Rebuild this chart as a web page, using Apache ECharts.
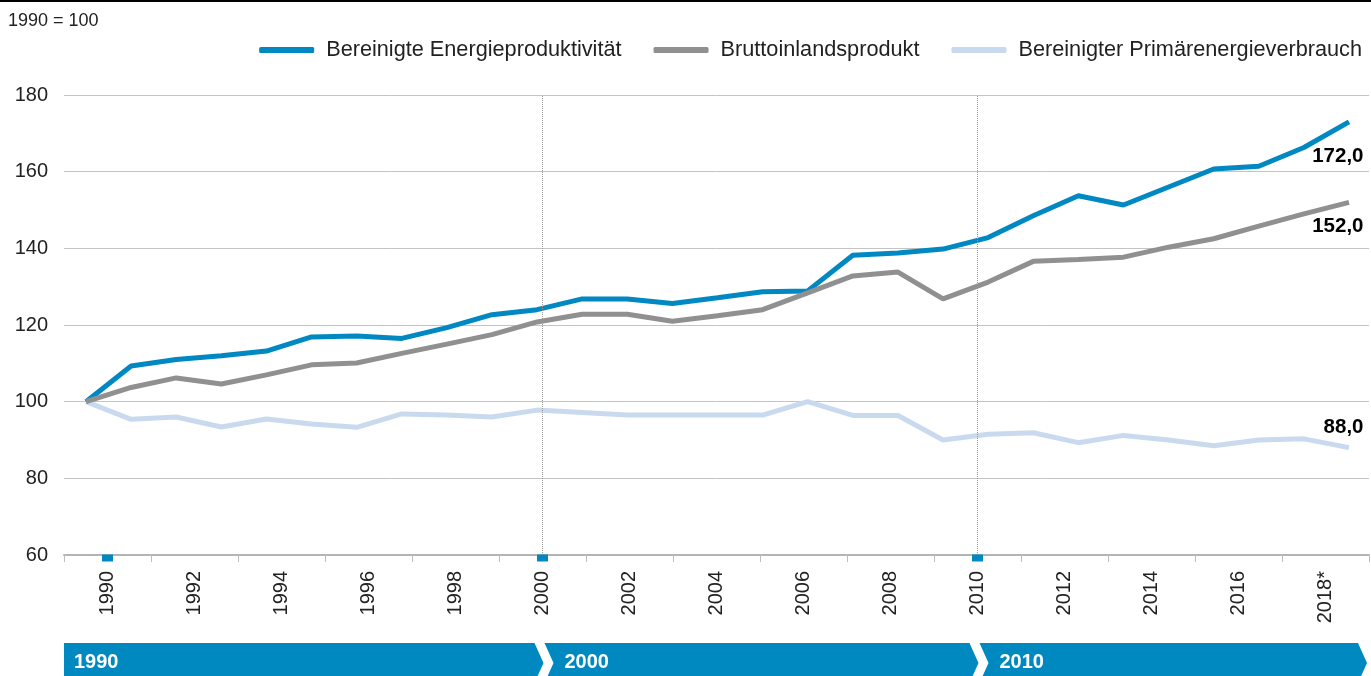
<!DOCTYPE html>
<html>
<head>
<meta charset="utf-8">
<style>
  html, body { margin: 0; padding: 0; background: #fff; }
  #chart { width: 1371px; height: 676px; }
</style>
<script src="https://cdn.jsdelivr.net/npm/echarts@6/dist/echarts.min.js"></script>
</head>
<body>
<div id="chart"></div>
<script>
// ---- Data ----
const years = ['1990','1991','1992','1993','1994','1995','1996','1997','1998','1999',
               '2000','2001','2002','2003','2004','2005','2006','2007','2008','2009',
               '2010','2011','2012','2013','2014','2015','2016','2017','2018'];
const tickLabels = ['1990','1992','1994','1996','1998','2000','2002','2004','2006','2008',
                    '2010','2012','2014','2016','2018*'];
const decadeMarks = ['1990','2000','2010'];
const seriesNames = ['Bereinigte Energieproduktivität','Bruttoinlandsprodukt','Bereinigter Primärenergieverbrauch'];
const energyProductivity = [100,109.3,111.0,112.0,113.2,116.9,117.1,116.5,119.3,122.7,
                            124.0,126.8,126.8,125.6,127.1,128.7,128.9,138.2,138.8,139.8,
                            142.8,148.5,153.7,151.3,156.0,160.7,161.4,166.3,173.0];
const gdp = [100,103.7,106.2,104.6,107.0,109.6,110.1,112.6,115.0,117.5,
             120.8,122.8,122.8,121.0,122.4,124.0,128.4,132.8,133.8,126.8,
             131.2,136.6,137.1,137.7,140.3,142.5,145.8,149.0,152.0];
const primaryEnergy = [100,95.4,96.0,93.4,95.5,94.2,93.3,96.8,96.5,96.0,
                       97.8,97.2,96.5,96.5,96.5,96.5,100.0,96.4,96.4,90.0,
                       91.5,91.9,89.3,91.2,90.0,88.5,90.0,90.3,88.0];
const endLabels = ['172,0','152,0','88,0'];
const baseLabel = '1990 = 100';

// ---- Styles ----
const FONT = "'Liberation Sans', Arial, sans-serif";
const colors = ['#0088c2', '#909090', '#c9daef'];
const bandColor = '#0089c0';

const chart = echarts.init(document.getElementById('chart'), null, {renderer: 'canvas'});

const GRID = {top: 95, bottom: 121};
const lineData = [energyProductivity, gdp, primaryEnergy];
const last = years.length - 1;
const endLabelPos = [[15, 35], [15, 25], [15, -20]];

const option = {
  animation: false,
  textStyle: {fontFamily: FONT},
  title: {
    text: baseLabel, left: 3, top: 7,
    textStyle: {fontFamily: FONT, fontSize: 18, fontWeight: 'normal', color: '#222'}
  },
  legend: {
    data: seriesNames,
    right: 4, top: 34,
    icon: 'roundRect',
    itemWidth: 55, itemHeight: 6, itemGap: 32,
    textStyle: {fontFamily: FONT, fontSize: 21.7, color: '#222', padding: [0, 0, 0, 7]}
  },
  grid: [
    {left: 64, right: 2, top: GRID.top, bottom: GRID.bottom, containLabel: false},
    {left: 86, right: 22, top: GRID.top, bottom: GRID.bottom, containLabel: false}
  ],
  xAxis: [
    {
      type: 'category', gridIndex: 0, data: tickLabels, boundaryGap: true,
      axisLine: {show: true, lineStyle: {color: '#b4b4b4', width: 2}},
      axisTick: {show: true, length: 7, lineStyle: {color: '#bbbbbb', width: 1}},
      axisLabel: {interval: 0, rotate: 90, margin: 16, fontFamily: FONT, fontSize: 20, color: '#222'},
      splitLine: {show: false}
    },
    {
      type: 'category', gridIndex: 1, data: years, boundaryGap: false, show: false
    }
  ],
  yAxis: [
    {
      type: 'value', gridIndex: 0, min: 60, max: 180, interval: 20,
      axisLine: {show: false}, axisTick: {show: false},
      axisLabel: {margin: 16, fontFamily: FONT, fontSize: 20, color: '#222'},
      splitLine: {show: true, lineStyle: {color: '#c4c4c4', width: 1}}
    },
    {
      type: 'value', gridIndex: 1, min: 60, max: 180, interval: 20, show: false,
      splitLine: {show: false}
    }
  ],
  series: [
    {
      name: 'decadeMarkers', type: 'scatter', xAxisIndex: 0, yAxisIndex: 0,
      data: decadeMarks.map(y => [y, 60]),
      symbol: 'rect', symbolSize: [11, 7], symbolOffset: [0, 3],
      itemStyle: {color: '#0088c2', opacity: 1}, clip: false, silent: true, z: 5,
      markLine: {
        silent: true, symbol: 'none', label: {show: false},
        lineStyle: {color: '#9a9a9a', type: 'dotted', width: 1},
        data: decadeMarks.slice(1).map(y => ({xAxis: y}))
      }
    },
    ...seriesNames.map((name, i) => ({
      name, type: 'line', xAxisIndex: 1, yAxisIndex: 1,
      data: lineData[i],
      symbol: 'none', smooth: false,
      lineStyle: {color: colors[i], width: 5},
      itemStyle: {color: colors[i]},
      z: [3, 4, 2][i]
    })),
    {
      name: 'endLabels', type: 'scatter', xAxisIndex: 1, yAxisIndex: 1,
      symbolSize: 1, itemStyle: {color: 'rgba(0,0,0,0)'}, silent: true, z: 10,
      data: lineData.map((arr, i) => ({
        value: [years[last], arr[last]],
        label: {
          show: true, formatter: endLabels[i], position: endLabelPos[i],
          align: 'right', verticalAlign: 'middle', opacity: 1,
          fontFamily: FONT, fontSize: 20.5, fontWeight: 'bold', color: '#000'
        }
      }))
    }
  ]
};

chart.setOption(option);

// ---- Decorative decade band below the axis, aligned to the category axis ----
function drawBand() {
  const cx = (v) => chart.convertToPixel({xAxisIndex: 0}, v);
  const c0 = cx(tickLabels[0]);
  const cLast = cx(tickLabels[tickLabels.length - 1]);
  const bw = (cx(tickLabels[1]) - c0);
  const left = c0 - bw / 2;
  const right = cLast + bw / 2;
  const top = 643, h = 40, mid = top + h / 2, bot = top + h;
  const slope = 9;
  const cuts = decadeMarks.slice(1).map(cx);
  const starts = [left].concat(cuts.map(c => c + 2));
  const ends = cuts.map(c => c - 8).concat([right - slope - 2]);
  const els = [];
  decadeMarks.forEach((label, i) => {
    const s = starts[i], e = ends[i];
    const pts = [[s, top], [e, top], [e + slope, mid], [e, bot], [s, bot]];
    if (i > 0) pts.push([s + slope, mid]);
    els.push({
      type: 'polygon', shape: {points: pts}, style: {fill: bandColor}, silent: true, z: 1
    });
    els.push({
      type: 'text', x: (i === 0 ? s + 10 : s + 20), y: mid - 1,
      style: {text: label, fill: '#fff', font: 'bold 20px ' + FONT, textVerticalAlign: 'middle', verticalAlign: 'middle'},
      silent: true, z: 2
    });
  });
  els.push({type: 'rect', shape: {x: 0, y: 0, width: 1371, height: 2}, style: {fill: '#000'}, silent: true, z: 2});
  chart.setOption({graphic: els});
}
drawBand();
</script>
</body>
</html>
